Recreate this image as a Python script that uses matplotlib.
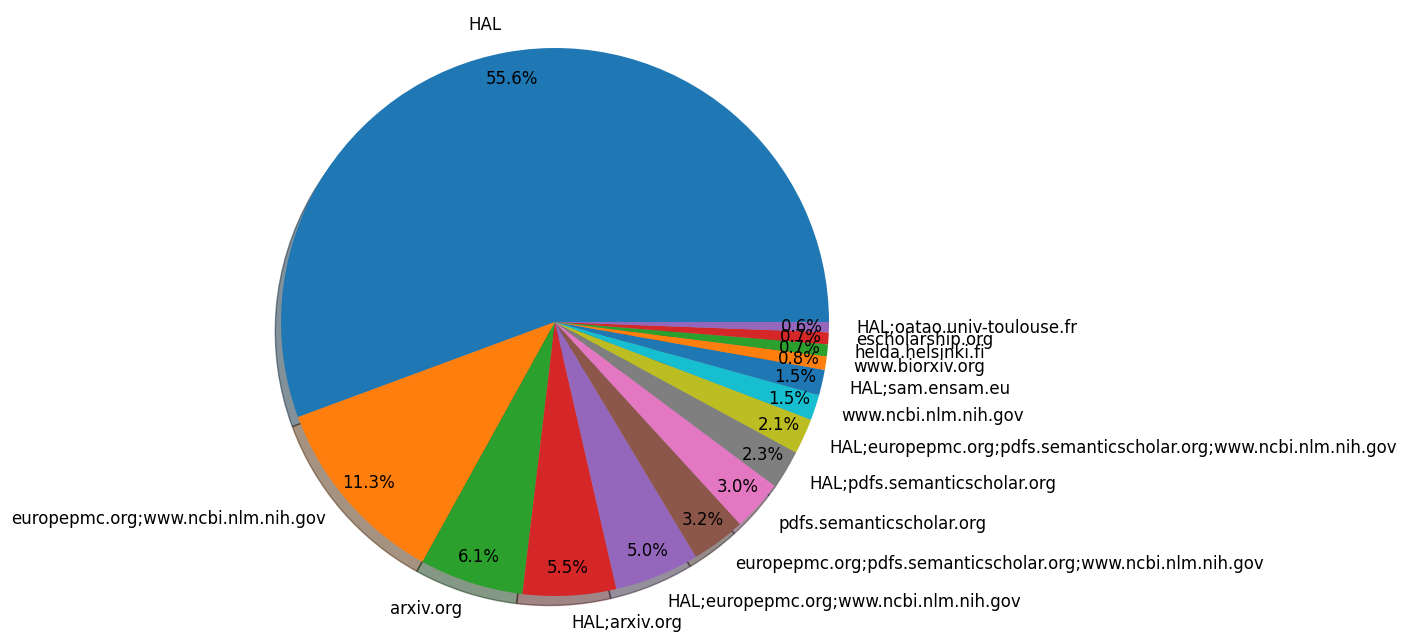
import matplotlib
matplotlib.use("Agg")
import matplotlib.pyplot as plt

labels = ["HAL", "europepmc.org;www.ncbi.nlm.nih.gov", "arxiv.org", "HAL;arxiv.org",
          "HAL;europepmc.org;www.ncbi.nlm.nih.gov",
          "europepmc.org;pdfs.semanticscholar.org;www.ncbi.nlm.nih.gov",
          "pdfs.semanticscholar.org", "HAL;pdfs.semanticscholar.org",
          "HAL;europepmc.org;pdfs.semanticscholar.org;www.ncbi.nlm.nih.gov",
          "www.ncbi.nlm.nih.gov", "HAL;sam.ensam.eu", "www.biorxiv.org",
          "helda.helsinki.fi", "escholarship.org", "HAL;oatao.univ-toulouse.fr"]
shares = [55.64, 11.33, 6.13, 5.5, 5.0, 3.2, 3.0, 2.3, 2.1, 1.5, 1.5, 0.8, 0.7, 0.7, 0.6]

W, H = 1401, 632
cx, cy, r = 555, 632 - 322, 274
half = 1.25 * r
fig = plt.figure(figsize=(W / 100, H / 100), dpi=100)
ax = fig.add_axes([(cx - half) / W, (cy - half) / H, 2 * half / W, 2 * half / H])
ax.pie(shares, labels=labels, autopct="%1.1f%%", pctdistance=0.9, labeldistance=1.1,
       shadow={"ox": -0.015, "oy": -0.025}, startangle=0, textprops={"fontsize": 12})
ax.set_aspect("equal")
plt.savefig("out.png", dpi=100)
